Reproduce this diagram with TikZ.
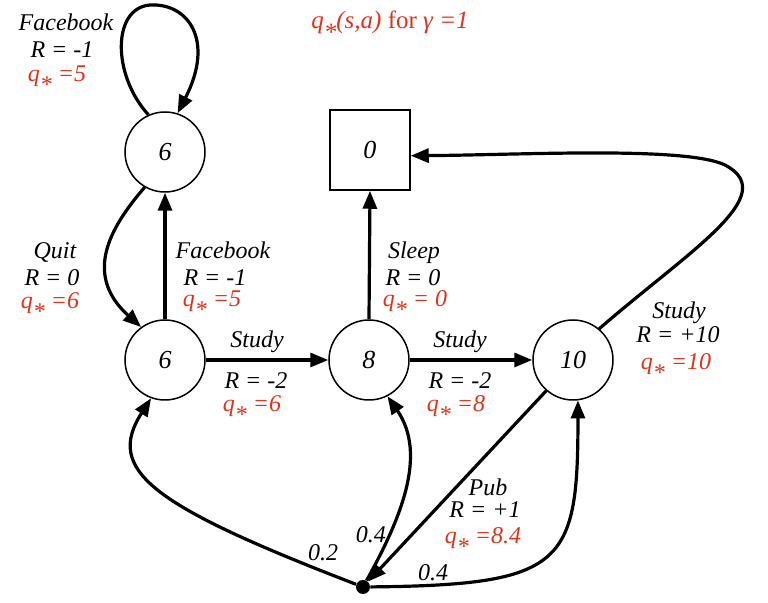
\documentclass[tikz,border=0pt]{standalone}
\usepackage{fontspec}
\setmainfont{Liberation Serif}
\usetikzlibrary{arrows.meta}
\definecolor{qred}{RGB}{228,48,24}
\newcommand{\qstar}{q\raisebox{-0.45em}{*}}
\begin{document}
\begin{tikzpicture}[x=0.5pt,y=-0.5pt,
  state/.style={circle,draw,line width=0.75pt,minimum size=40pt,inner sep=0pt,font=\fontsize{13}{15}\selectfont\itshape},
  term/.style={rectangle,draw,line width=0.75pt,minimum size=40pt,inner sep=0pt,font=\fontsize{13}{15}\selectfont\itshape},
  edge/.style={line width=1.6pt,-{Triangle[length=9pt,width=7pt]}},
  lbl/.style={font=\fontsize{12}{14}\selectfont\itshape,inner sep=0pt,anchor=base},
  qlbl/.style={lbl,text=qred},
]
\useasboundingbox (0,0) rectangle (768,603);

% title
\node[lbl,text=qred,font=\fontsize{12.5}{15}\selectfont] (title) at (390,29) {\textit{\qstar(s,a)} for \textit{γ =1}};

% states
\node[state] (A) at (165,152) {6};
\node[state] (B) at (165,360) {6};
\node[state] (C) at (369,360) {8};
\node[state] (D) at (573,360) {10};
\node[term]  (T) at (370,150) {0};
\node[circle,fill,inner sep=0pt,minimum size=7pt] (P) at (363,587) {};

% edges
\draw[edge] (A.114) .. controls (112,75) and (112,8) .. (150,5)
            .. controls (188,3) and (215,40) .. (A.72);
\draw[edge] (A.240) .. controls (115,222) and (80,272) .. (B.126);
\draw[edge] (B.north) -- (A.south);
\draw[edge] (B.east) -- (C.west);
\draw[edge] (C.north) -- (T.south);
\draw[edge] (C.east) -- (D.west);
\draw[edge] (D.50) .. controls (690,250) and (782,195) .. (725,165)
            .. controls (685,146) and (520,155) .. (T.-8);
\draw[edge] (D.229) -- (P);
\draw[edge] (P) .. controls (150,505) and (105,470) .. (B.250);
\draw[edge] (P) .. controls (400,520) and (428,455) .. (C.297);
\draw[edge] (P) .. controls (565,585) and (578,565) .. (D.277);

% labels
\node[lbl] (l1a) at (66,31) {Facebook};
\node[lbl] (l1b) at (62,58) {R = -1};
\node[qlbl] (l1c) at (57,82) {\qstar\ =5};

\node[lbl] (l2a) at (55,259) {Quit};
\node[lbl] (l2b) at (52,286) {R = 0};
\node[qlbl] (l2c) at (50,309) {\qstar\ =6};

\node[lbl] (l3a) at (223,259) {Facebook};
\node[lbl] (l3b) at (215,286) {R = -1};
\node[qlbl] (l3c) at (212,307) {\qstar\ =5};

\node[lbl] (l4a) at (257,348) {Study};
\node[lbl] (l4b) at (256,389) {R = -2};
\node[qlbl] (l4c) at (252,412) {\qstar\ =6};

\node[lbl] (l5a) at (414,259) {Sleep};
\node[lbl] (l5b) at (413,286) {R = 0};
\node[qlbl] (l5c) at (415,307) {\qstar\ = 0};

\node[lbl] (l6a) at (460,348) {Study};
\node[lbl] (l6b) at (460,389) {R = -2};
\node[qlbl] (l6c) at (456,412) {\qstar\ =8};

\node[lbl] (l7a) at (679,319) {Study};
\node[lbl] (l7b) at (678,343) {R = +10};
\node[qlbl] (l7c) at (676,370) {\qstar\ =10};

\node[lbl] (l8a) at (488,496) {Pub};
\node[lbl] (l8b) at (485,518) {R = +1};
\node[qlbl] (l8c) at (483,544) {\qstar\ =8.4};

\node[lbl] (p1) at (323,561) {0.2};
\node[lbl] (p2) at (371,543) {0.4};
\node[lbl] (p3) at (433,581) {0.4};
\end{tikzpicture}
\end{document}
